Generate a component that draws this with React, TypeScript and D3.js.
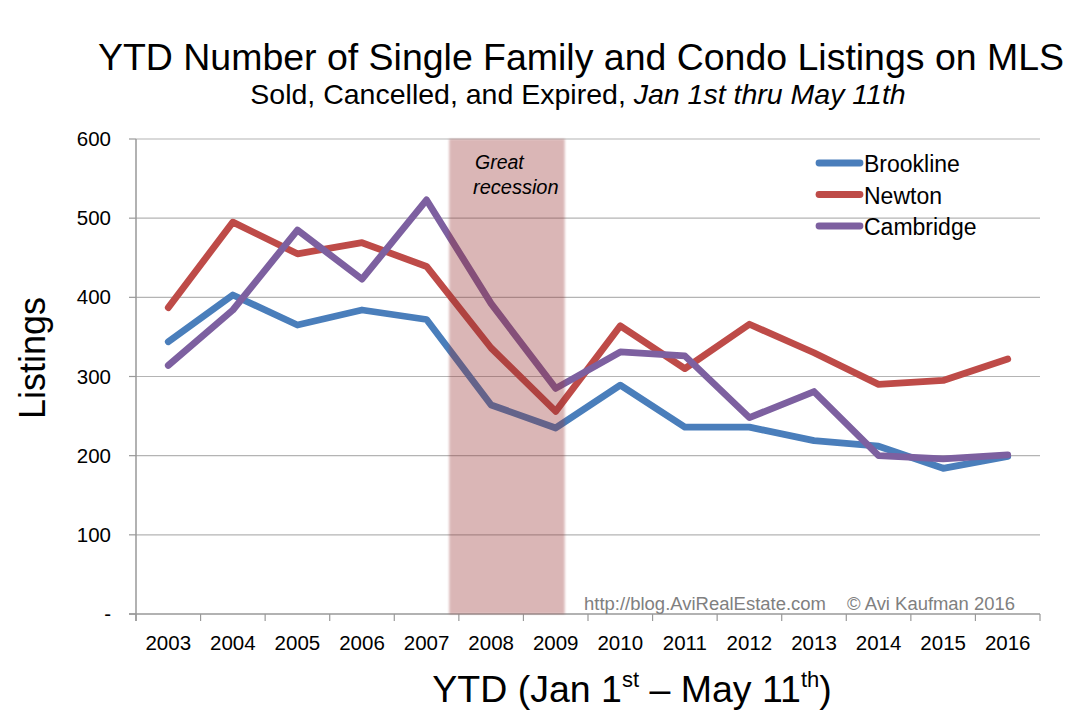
import React from "react";
import * as d3 from "d3";

const years = [2003, 2004, 2005, 2006, 2007, 2008, 2009, 2010, 2011, 2012, 2013, 2014, 2015, 2016];
const brookline = [344, 403, 365, 384, 372, 264, 235, 289, 236, 236, 219, 212, 184, 199];
const newton = [387, 495, 455, 469, 439, 336, 256, 364, 310, 366, 330, 290, 295, 322];
const cambridge = [314, 384, 485, 423, 523, 392, 285, 331, 326, 248, 281, 200, 196, 201];
const yTicks = [0, 100, 200, 300, 400, 500, 600];
const recession = [2007.35, 2009.14];

const seriesList = [
  { name: "Brookline", values: brookline, color: "#4a7ebb" },
  { name: "Newton", values: newton, color: "#be4b48" },
  { name: "Cambridge", values: cambridge, color: "#7d60a0" },
];

const W = 1070, H = 718;
const L = 136, R = 1040, T = 139, B = 614;
const FONT = "'Liberation Sans', Arial, Helvetica, sans-serif";

export default function App() {
  const x = d3.scaleLinear().domain([years[0] - 0.5, years[years.length - 1] + 0.5]).range([L, R]);
  const y = d3.scaleLinear().domain([0, 600]).range([B, T]);
  const line = d3.line<number>().x((_, i) => x(years[i])).y((d) => y(d));
  const boundaries = d3.range(years.length + 1).map((i) => years[0] - 0.5 + i);

  return (
    <svg width={W} height={H} style={{ position: "absolute", left: 0, top: 0, background: "#fff" }} fontFamily={FONT}>
      <defs>
        <filter id="blur" x="-10%" y="-2%" width="120%" height="104%">
          <feGaussianBlur stdDeviation="1.2" />
        </filter>
      </defs>
      <rect x={0} y={0} width={W} height={H} fill="#fff" />
      {/* title */}
      <text x={581} y={70} textAnchor="middle" fontSize={37} fill="#000" textLength={966} lengthAdjust="spacingAndGlyphs">
        YTD Number of Single Family and Condo Listings on MLS
      </text>
      <text x={578} y={104} textAnchor="middle" fontSize={28.5} fill="#000">
        Sold, Cancelled, and Expired, <tspan fontStyle="italic">Jan 1st thru May 11th</tspan>
      </text>
      {/* grid */}
      {yTicks.filter((t) => t > 0).map((t) => (
        <line key={t} x1={L} x2={R} y1={y(t)} y2={y(t)} stroke="#b4b4b4" strokeWidth={1.2} />
      ))}
      {/* axes */}
      <line x1={L} x2={L} y1={T} y2={B + 7} stroke="#999" strokeWidth={1.5} />
      <line x1={L - 7} x2={R} y1={B} y2={B} stroke="#999" strokeWidth={1.5} />
      {yTicks.map((t) => (
        <g key={t}>
          <line x1={L - 7} x2={L} y1={y(t)} y2={y(t)} stroke="#999" strokeWidth={1.2} />
          <text x={111} y={y(t) + 7} textAnchor="end" fontSize={20.5} fill="#000">
            {t === 0 ? "-" : t}
          </text>
        </g>
      ))}
      {boundaries.map((b) => (
        <line key={b} x1={x(b)} x2={x(b)} y1={B} y2={B + 7} stroke="#999" strokeWidth={1.2} />
      ))}
      {years.map((yr) => (
        <text key={yr} x={x(yr)} y={650} textAnchor="middle" fontSize={20.5} fill="#000">
          {yr}
        </text>
      ))}
      {/* series */}
      {seriesList.map((s) => (
        <path key={s.name} d={line(s.values) || ""} fill="none" stroke={s.color} strokeWidth={6.8}
          strokeLinejoin="round" strokeLinecap="round" />
      ))}
      {/* recession band */}
      <rect x={x(recession[0])} y={T} width={x(recession[1]) - x(recession[0])} height={B - T}
        fill="rgb(150,48,48)" opacity={0.35} filter="url(#blur)" />
      <text x={475} y={169} fontSize={19.5} fontStyle="italic" fill="#000">Great</text>
      <text x={473} y={194} fontSize={20} fontStyle="italic" fill="#000">recession</text>
      {/* legend */}
      {seriesList.map((s, i) => (
        <g key={s.name}>
          <line x1={819} x2={860} y1={163 + i * 31.5} y2={163 + i * 31.5} stroke={s.color} strokeWidth={6.8} strokeLinecap="round" />
          <text x={864} y={172 + i * 31.5} fontSize={23} fill="#000">{s.name}</text>
        </g>
      ))}
      {/* watermark */}
      <text x={584} y={610} fontSize={17.5} fill="#808080" textLength={242} lengthAdjust="spacingAndGlyphs">http://blog.AviRealEstate.com</text>
      <text x={847} y={610} fontSize={17.5} fill="#808080" textLength={168} lengthAdjust="spacingAndGlyphs">© Avi Kaufman 2016</text>
      {/* axis titles */}
      <text transform={`translate(45,358) rotate(-90)`} textAnchor="middle" fontSize={36} fill="#000">
        Listings
      </text>
      <text x={632} y={702} textAnchor="middle" fontSize={37.5} fill="#000">
        YTD (Jan 1<tspan fontSize={22} dy={-15}>st</tspan>
        <tspan dy={15}> – May 11</tspan>
        <tspan fontSize={22} dy={-15}>th</tspan>
        <tspan dy={15}>)</tspan>
      </text>
    </svg>
  );
}
